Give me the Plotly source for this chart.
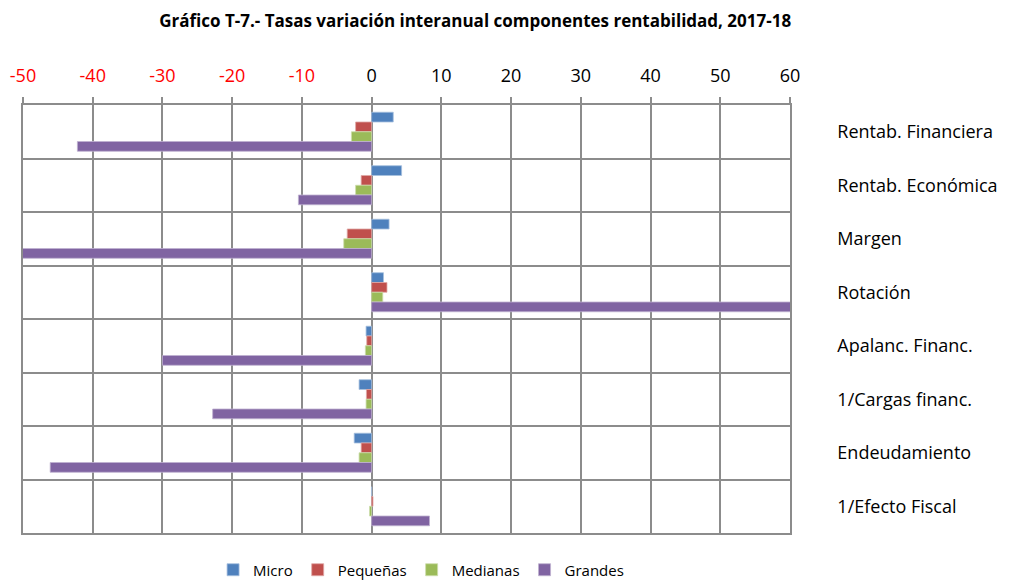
import plotly.graph_objects as go

categories = ["Rentab. Financiera", "Rentab. Económica", "Margen", "Rotación",
              "Apalanc. Financ.", "1/Cargas financ.", "Endeudamiento", "1/Efecto Fiscal"]

micro = [3.1, 4.3, 2.5, 1.7, -0.8, -1.8, -2.5, 0.0]
pequenas = [-2.3, -1.5, -3.5, 2.2, -0.7, -0.75, -1.5, 0.2]
medianas = [-2.9, -2.3, -4.0, 1.6, -0.9, -0.8, -1.8, -0.3]
grandes = [-42.2, -10.5, -50.5, 60.5, -30.0, -22.8, -46.1, 8.3]

series_names = ["Micro", "Pequeñas", "Medianas", "Grandes"]
series_values = [micro, pequenas, medianas, grandes]
series_colors = ["#4F81BD", "#C0504D", "#9BBB59", "#8064A2"]
series_edges = ["#A7C0DE", "#E0A8A6", "#CDDDAC", "#BFB1D0"]

x_ticks = [-50, -40, -30, -20, -10, 0, 10, 20, 30, 40, 50, 60]
x_ticktext = [f'<span style="color:#FF0000">{v}</span>' if v < 0 else str(v) for v in x_ticks]

FONT = "Open Sans"
GRID = "#8C8C8C"

fig = go.Figure()
for name, vals, col, edge in zip(series_names, series_values, series_colors, series_edges):
    fig.add_trace(go.Bar(
        y=categories, x=vals, name=name, orientation="h",
        marker=dict(color=col, line=dict(color=edge, width=0.8)),
    ))

# page body adds an 8px offset; figure sized to fit the 1017x581 window
fig.update_layout(
    width=1009, height=573,
    paper_bgcolor="white", plot_bgcolor="white",
    margin=dict(l=15, r=227, t=97, b=48, autoexpand=False),
    barmode="group", bargap=0.27, bargroupgap=0,
    font=dict(family=FONT, size=16, color="black"),
    title=dict(
        text="<b>Gráfico T-7.- Tasas variación interanual componentes rentabilidad, 2017-18</b>",
        x=0.463, xanchor="center", y=0.978, yanchor="middle",
        font=dict(family=FONT, size=17, color="black"),
    ),
    legend=dict(
        orientation="h", x=0.519, xanchor="center", y=-0.0864, yanchor="middle",
        font=dict(family=FONT, size=15), traceorder="normal",
        itemwidth=30,
    ),
    xaxis=dict(
        side="top", range=[-50, 60], tickvals=x_ticks, ticktext=x_ticktext,
        showgrid=True, gridcolor=GRID, gridwidth=1.5,
        zeroline=True, zerolinecolor=GRID, zerolinewidth=1.5,
        ticks="outside", ticklen=6, tickcolor=GRID, tickwidth=1.5,
        ticklabelstandoff=8,
        showline=True, linecolor=GRID, linewidth=1.5, mirror=True,
        tickfont=dict(size=18, family=FONT),
        automargin=False, fixedrange=True,
    ),
    yaxis=dict(
        type="category", categoryorder="array", categoryarray=categories,
        autorange="reversed", side="right", tickson="boundaries",
        showgrid=True, gridcolor=GRID, gridwidth=1.5,
        ticks="", ticklabelstandoff=42,
        showline=True, linecolor=GRID, linewidth=1.5, mirror=True,
        tickfont=dict(size=18, family=FONT),
        automargin=False, fixedrange=True,
    ),
)

fig.write_html("out.html")
